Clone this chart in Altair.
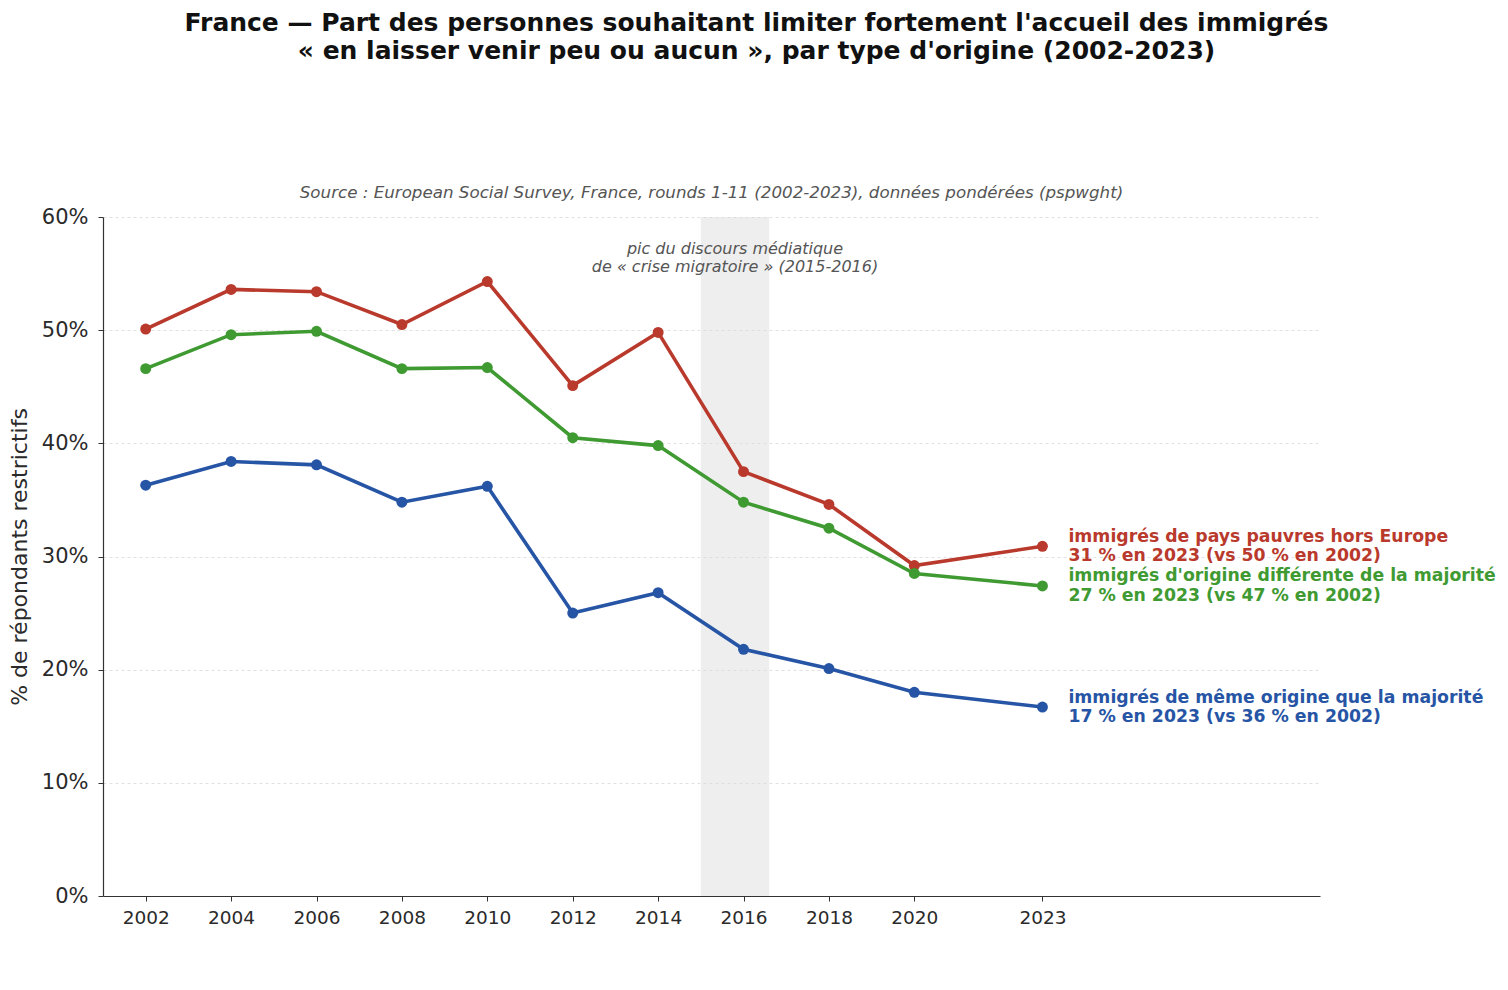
import altair as alt
import pandas as pd

years = [2002, 2004, 2006, 2008, 2010, 2012, 2014, 2016, 2018, 2020, 2023]
red_vals = [50.1, 53.6, 53.4, 50.5, 54.3, 45.1, 49.8, 37.5, 34.6, 29.2, 30.9]
green_vals = [46.6, 49.6, 49.9, 46.6, 46.7, 40.5, 39.8, 34.8, 32.5, 28.5, 27.4]
blue_vals = [36.3, 38.4, 38.1, 34.8, 36.2, 25.0, 26.8, 21.8, 20.1, 18.0, 16.7]

series_names = [
    "immigrés de pays pauvres hors Europe",
    "immigrés d'origine différente de la majorité",
    "immigrés de même origine que la majorité",
]
series_colors = ["#b93a2c", "#3f9a32", "#2755a5"]
y_ticks = [0, 10, 20, 30, 40, 50, 60]

title_lines = [
    "France — Part des personnes souhaitant limiter fortement l'accueil des immigrés",
    "« en laisser venir peu ou aucun », par type d'origine (2002-2023)",
]
source_text = "Source : European Social Survey, France, rounds 1-11 (2002-2023), données pondérées (pspwght)"
shade_start, shade_end = 2015, 2016.6
shade_note = "pic du discours médiatique\nde « crise migratoire » (2015-2016)"
y_title = "% de répondants restrictifs"

FONT = "DejaVu Sans"

rows = []
for name, vals in zip(series_names, [red_vals, green_vals, blue_vals]):
    for yr, v in zip(years, vals):
        rows.append({"year": yr, "value": v, "series": name})
df = pd.DataFrame(rows)

labels = pd.DataFrame([
    {
        "year": years[-1],
        "value": vals[-1],
        "series": name,
        "label": f"{name}\n{round(vals[-1])} % en {years[-1]} (vs {round(vals[0])} % en {years[0]})",
    }
    for name, vals in zip(series_names, [red_vals, green_vals, blue_vals])
])

W, H = 1217, 679

xscale = alt.Scale(domain=[2001, 2029.5], nice=False, zero=False)
yscale = alt.Scale(domain=[0, 60], nice=False)
cscale = alt.Scale(domain=series_names, range=series_colors)

shade = alt.Chart(pd.DataFrame([{"x0": shade_start, "x1": shade_end, "y0": 0, "y1": 60}])).mark_rect(
    color="#dadada", opacity=0.45
).encode(
    x=alt.X("x0:Q", scale=xscale,
            axis=alt.Axis(values=years, format="d", title=None, grid=False,
                          labelFont=FONT, labelFontSize=18.5, labelColor="#2a2a2a",
                          domainColor="#333", domainWidth=1.2, tickColor="#333",
                          tickWidth=1, tickSize=5, labelPadding=7)),
    x2="x1:Q",
    y=alt.Y("y0:Q", scale=yscale,
            axis=alt.Axis(values=y_ticks, labelExpr="datum.value + '%'", title=y_title,
                          grid=True, gridColor="#d9d9d9", gridDash=[3, 3], gridWidth=0.8,
                          labelFont=FONT, labelFontSize=21, labelColor="#2a2a2a",
                          titleFont=FONT, titleFontSize=22, titleFontWeight="normal",
                          titleColor="#2a2a2a", titlePadding=10,
                          domainColor="#333", domainWidth=1.2, tickColor="#333",
                          tickWidth=1, tickSize=5, labelPadding=10)),
    y2="y1:Q",
)

note = alt.Chart(pd.DataFrame([{"x": (shade_start + shade_end) / 2, "y": 57.2, "t": shade_note}])).mark_text(
    font=FONT, fontSize=16, fontStyle="italic", color="#555", lineBreak="\n",
    lineHeight=18, align="center", baseline="middle"
).encode(x=alt.X("x:Q", scale=xscale), y=alt.Y("y:Q", scale=yscale), text="t:N")

lines = alt.Chart(df).mark_line(strokeWidth=3.6).encode(
    x=alt.X("year:Q", scale=xscale),
    y=alt.Y("value:Q", scale=yscale),
    color=alt.Color("series:N", scale=cscale, legend=None),
    detail="series:N",
)

points = alt.Chart(df).mark_circle(size=120, opacity=1).encode(
    x=alt.X("year:Q", scale=xscale),
    y=alt.Y("value:Q", scale=yscale),
    color=alt.Color("series:N", scale=cscale, legend=None),
)

end_labels = alt.Chart(labels).mark_text(
    font=FONT, fontSize=17.3, fontWeight="bold", align="left", baseline="middle",
    lineBreak="\n", lineHeight=19.5, dx=26, dy=-9.5
).encode(
    x=alt.X("year:Q", scale=xscale),
    y=alt.Y("value:Q", scale=yscale),
    text="label:N",
    color=alt.Color("series:N", scale=cscale, legend=None),
)

source = alt.Chart(pd.DataFrame([{"t": source_text}])).mark_text(
    font=FONT, fontSize=16.7, fontStyle="italic", color="#555", align="center", baseline="middle"
).encode(x=alt.value(W / 2), y=alt.value(-24), text="t:N")

chart = alt.layer(shade, note, lines, points, end_labels, source).properties(
    width=W,
    height=H,
    title=alt.TitleParams(
        text=title_lines, font=FONT, fontSize=25, fontWeight="bold", color="#111",
        anchor="middle", frame="group", dx=45, offset=121, lineHeight=28,
    ),
    autosize=alt.AutoSizeParams(type="none"),
    padding={"left": 95, "top": 209, "right": 180, "bottom": 86},
    background="white",
).configure_view(stroke=None)

chart.save("out.html", embed_options={"renderer": "svg", "actions": False})
